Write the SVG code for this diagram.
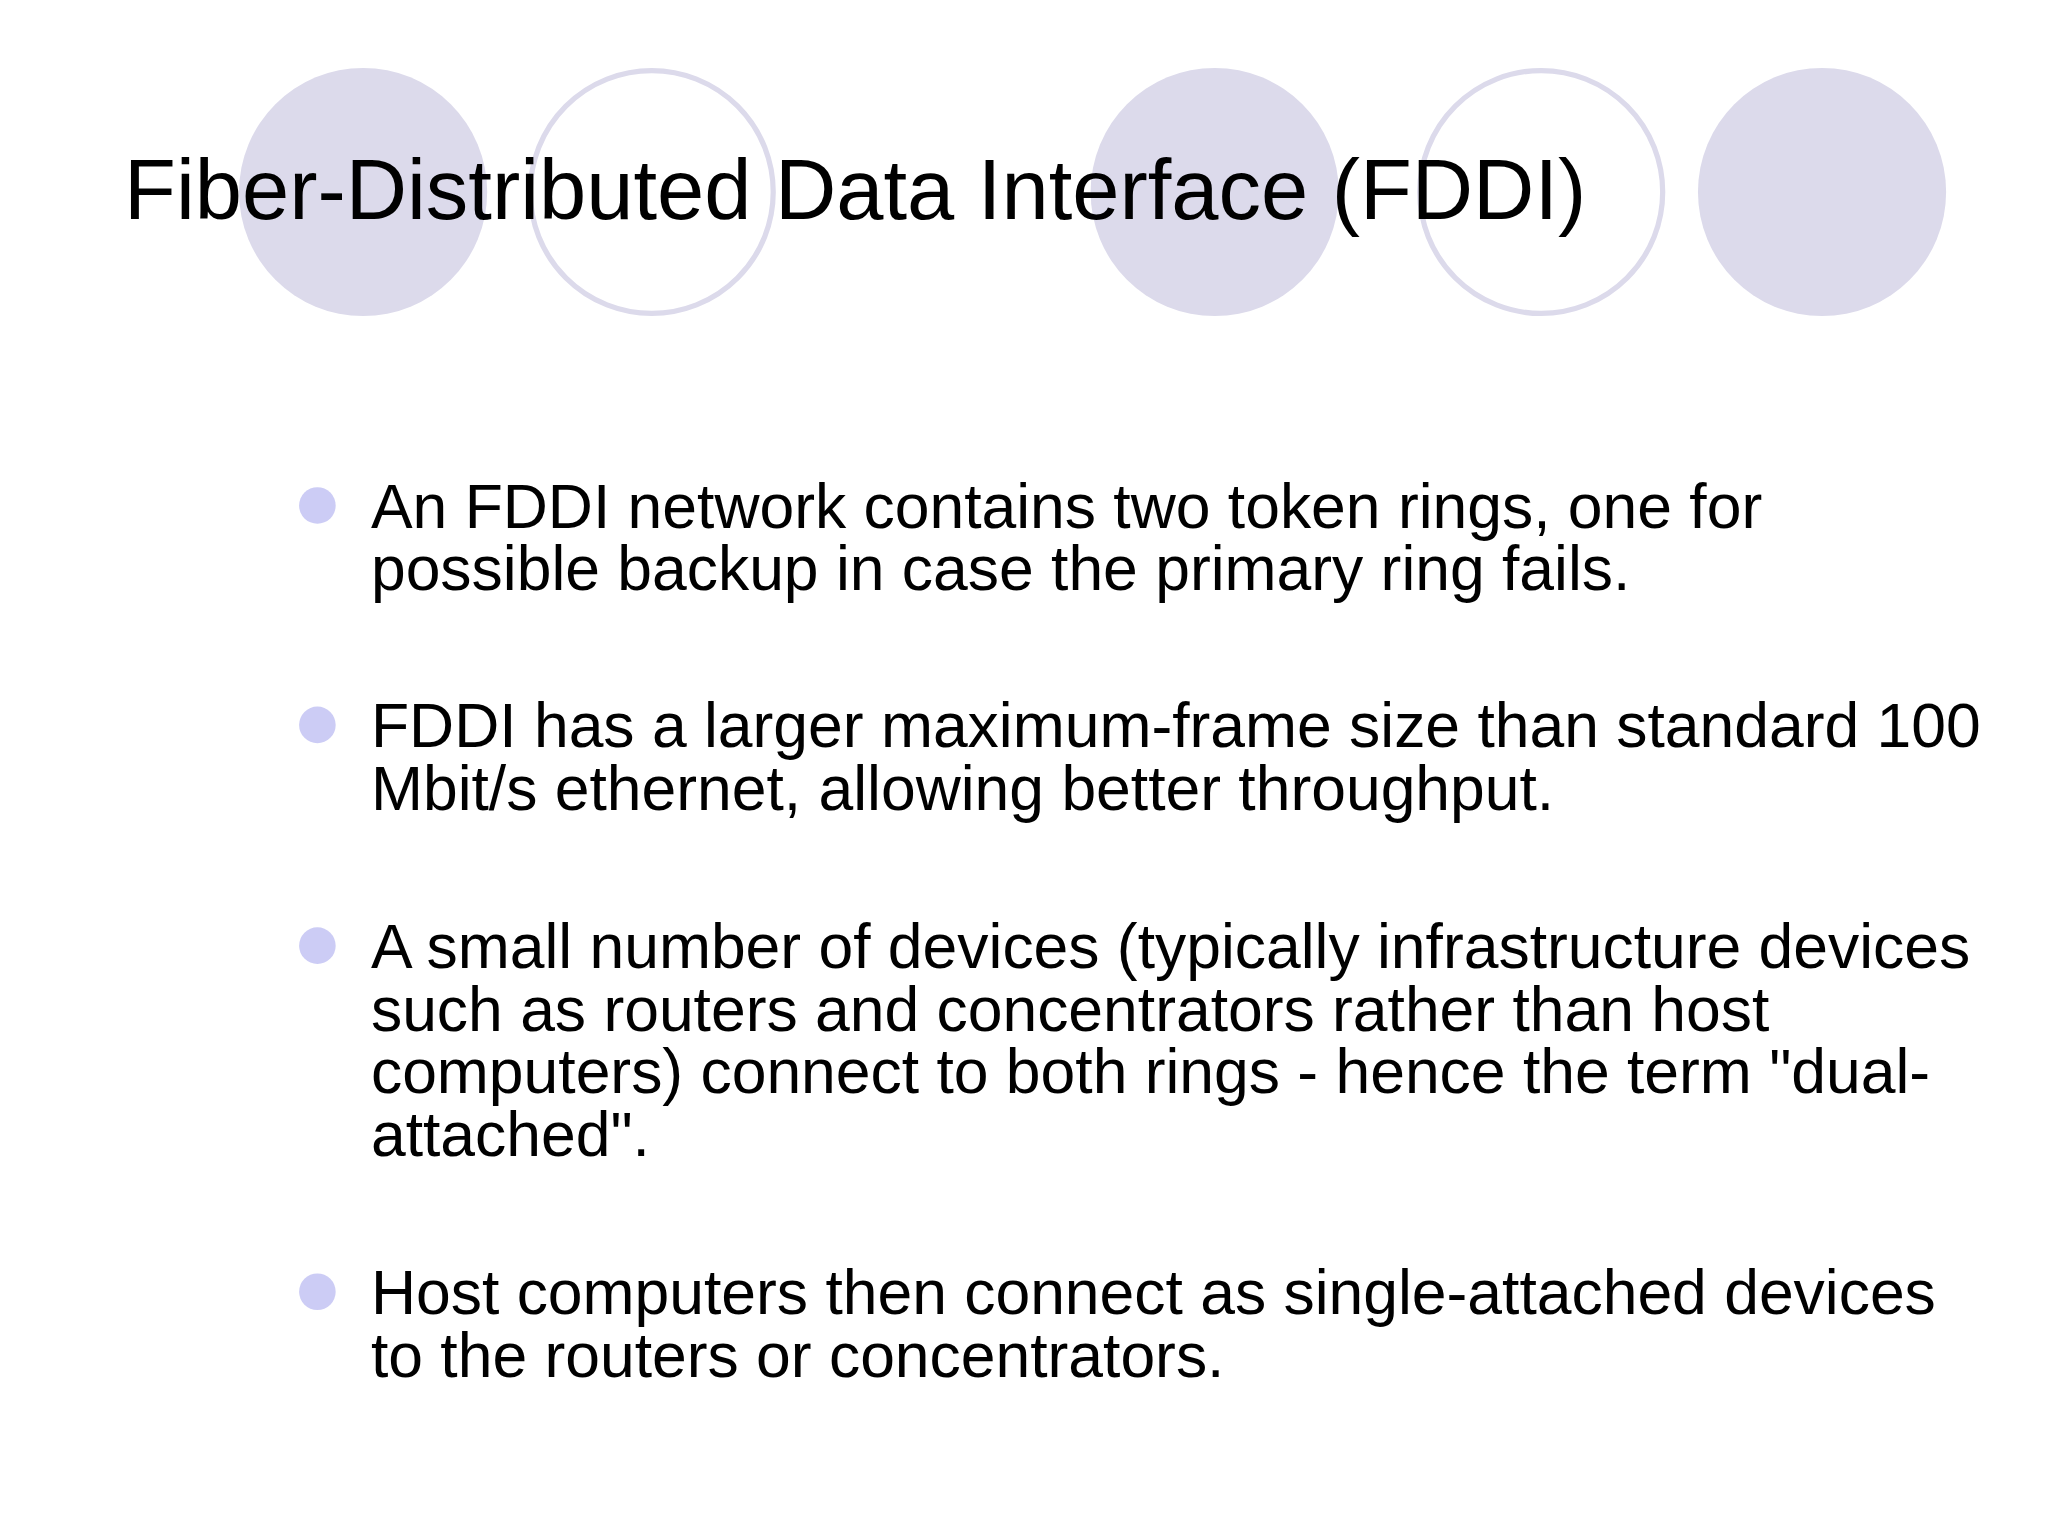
<svg xmlns="http://www.w3.org/2000/svg" width="2048" height="1536" viewBox="0 0 2048 1536">
<style>
.f{fill:#dcdaeb}
.o{fill:none;stroke:#dcdaeb;stroke-width:4}
.t{font-family:"Liberation Sans",Arial,sans-serif;fill:#000}
.b{fill:#ccccf5}
</style>
<rect width="2048" height="1536" fill="#fff"/>
<g transform="scale(1.30612)">
<g id="decor">
<circle class="f" cx="278" cy="147" r="95"/>
<circle class="o" cx="499" cy="147" r="93"/>
<circle class="f" cx="930" cy="147" r="95"/>
<circle class="o" cx="1180" cy="147" r="93"/>
<circle class="f" cx="1395" cy="147" r="95"/>
</g>
<text id="title" class="t" x="95" y="168" font-size="65">Fiber-Distributed Data Interface (FDDI)</text>
<g id="bullets" class="t" font-size="47.8">
<circle class="b" cx="243" cy="387" r="14"/>
<circle class="b" cx="243" cy="555" r="14"/>
<circle class="b" cx="243" cy="724" r="14"/>
<circle class="b" cx="243" cy="989" r="14"/>
<text x="284" y="404">An FDDI network contains two token rings, one for</text>
<text x="284" y="452">possible backup in case the primary ring fails.</text>
<text x="284" y="572">FDDI has a larger maximum-frame size than standard 100</text>
<text x="284" y="620">Mbit/s ethernet, allowing better throughput.</text>
<text x="284" y="741">A small number of devices (typically infrastructure devices</text>
<text x="284" y="789">such as routers and concentrators rather than host</text>
<text x="284" y="837">computers) connect to both rings - hence the term "dual-</text>
<text x="284" y="885">attached".</text>
<text x="284" y="1006">Host computers then connect as single-attached devices</text>
<text x="284" y="1054">to the routers or concentrators.</text>
</g>
</g>
</svg>
